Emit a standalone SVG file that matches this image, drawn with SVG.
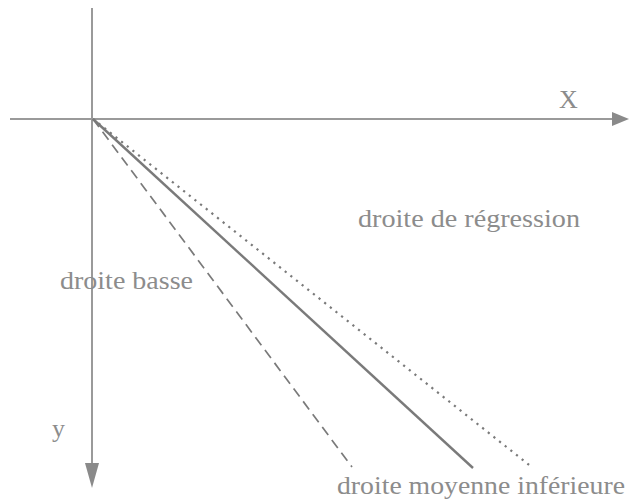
<svg xmlns="http://www.w3.org/2000/svg" width="630" height="502" viewBox="0 0 630 502">
<style>
.axis{stroke:#9a9a9a;stroke-width:2;fill:none}
.ln{stroke:#7a7a7a;fill:none}
.head{fill:#8a8a8a}
text{font-family:"Liberation Serif","Times New Roman",serif;fill:#8c8c8c;font-size:26px}
</style>
<rect width="630" height="502" fill="#fff"/>
<g id="connectors">
<line class="axis" x1="92" y1="8" x2="92" y2="466"/>
<polygon class="head" points="85,463 99,463 92,488"/>
<line class="axis" x1="10" y1="119" x2="614" y2="119"/>
<polygon class="head" points="612,112 612,126 629,119"/>
<line class="ln" x1="93" y1="119" x2="352" y2="467" stroke-width="1.7" stroke-dasharray="10,6"/>
<line class="ln" x1="93" y1="119" x2="473" y2="468" stroke-width="2.4"/>
<line class="ln" x1="93" y1="119" x2="533" y2="468" stroke-width="2.2" stroke-dasharray="2.2,5" stroke="#8a8a8a"/>
</g>
<g id="label-x"><text x="559" y="108" font-size="24">X</text></g>
<g id="label-y"><text x="52" y="437">y</text></g>
<g id="label-basse"><text x="60" y="289" textLength="133" lengthAdjust="spacingAndGlyphs">droite basse</text></g>
<g id="label-regression"><text x="358" y="227" textLength="222" lengthAdjust="spacingAndGlyphs">droite de régression</text></g>
<g id="label-moyenne"><text x="337" y="494" textLength="288" lengthAdjust="spacingAndGlyphs">droite moyenne inférieure</text></g>
</svg>
